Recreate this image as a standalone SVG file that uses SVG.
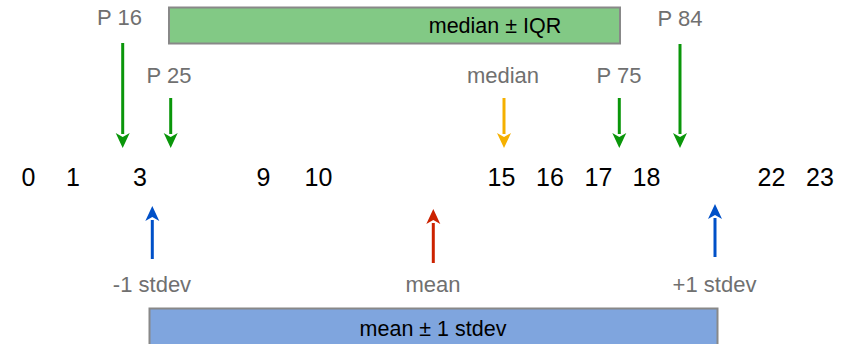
<svg xmlns="http://www.w3.org/2000/svg" width="855" height="344" viewBox="0 0 855 344">
  <style>
    .lbl { font-family: "Liberation Sans", Arial, sans-serif; font-size: 22px; fill: #707070; text-anchor: middle; }
    .num { font-family: "Liberation Sans", Arial, sans-serif; font-size: 25px; fill: #000; text-anchor: middle; }
    .box { font-family: "Liberation Sans", Arial, sans-serif; font-size: 21.5px; fill: #000; text-anchor: middle; }
  </style>
  <rect width="855" height="344" fill="#fff"/>

  <!-- summary bars -->
  <g id="iqr-bar">
    <rect x="169" y="7.5" width="451" height="36" fill="#82c985" stroke="#888" stroke-width="2"/>
    <text class="box" x="495" y="32.5">median ± IQR</text>
  </g>
  <g id="stdev-bar">
    <rect x="149.5" y="308.5" width="568" height="45" fill="#7fa5de" stroke="#888" stroke-width="2"/>
    <text class="box" x="433" y="335.5">mean ± 1 stdev</text>
  </g>

  <!-- data values -->
  <g id="values">
    <text class="num" x="28.5" y="186">0</text>
    <text class="num" x="73" y="186">1</text>
    <text class="num" x="140" y="186">3</text>
    <text class="num" x="263.5" y="186">9</text>
    <text class="num" x="318.5" y="186">10</text>
    <text class="num" x="501.5" y="186">15</text>
    <text class="num" x="550" y="186">16</text>
    <text class="num" x="598.5" y="186">17</text>
    <text class="num" x="646.5" y="186">18</text>
    <text class="num" x="771.5" y="186">22</text>
    <text class="num" x="820" y="186">23</text>
  </g>

  <!-- marker labels -->
  <g id="labels">
    <text class="lbl" x="119.5" y="25">P 16</text>
    <text class="lbl" x="169" y="83">P 25</text>
    <text class="lbl" x="503" y="83">median</text>
    <text class="lbl" x="619" y="83">P 75</text>
    <text class="lbl" x="680" y="26">P 84</text>
    <text class="lbl" x="152" y="292">-1 stdev</text>
    <text class="lbl" x="433" y="292">mean</text>
    <text class="lbl" x="714.5" y="292">+1 stdev</text>
  </g>

  <!-- connectors -->
  <g id="connectors">
    <path d="M122.7,43 V134" stroke="#0a960a" stroke-width="3"/>
    <path d="M115.7,133 L122.7,148 L129.7,133 L122.7,137 Z" fill="#0a960a"/>
    <path d="M170.7,98 V134" stroke="#0a960a" stroke-width="3"/>
    <path d="M163.7,133 L170.7,148 L177.7,133 L170.7,137 Z" fill="#0a960a"/>
    <path d="M504,98 V134" stroke="#f5b000" stroke-width="3"/>
    <path d="M497,133 L504,148 L511,133 L504,137 Z" fill="#f5b000"/>
    <path d="M619.3,98 V134" stroke="#0a960a" stroke-width="3"/>
    <path d="M612.3,133 L619.3,148 L626.3,133 L619.3,137 Z" fill="#0a960a"/>
    <path d="M680,44 V134" stroke="#0a960a" stroke-width="3"/>
    <path d="M673,133 L680,148 L687,133 L680,137 Z" fill="#0a960a"/>

    <path d="M152.3,259 V220" stroke="#0050c8" stroke-width="3"/>
    <path d="M145.3,221 L152.3,206 L159.3,221 L152.3,217 Z" fill="#0050c8"/>
    <path d="M433.3,263 V223" stroke="#cc2200" stroke-width="3"/>
    <path d="M426.3,224 L433.3,209 L440.3,224 L433.3,220 Z" fill="#cc2200"/>
    <path d="M715,257 V218" stroke="#0050c8" stroke-width="3"/>
    <path d="M708,219 L715,204 L722,219 L715,215 Z" fill="#0050c8"/>
  </g>
</svg>
